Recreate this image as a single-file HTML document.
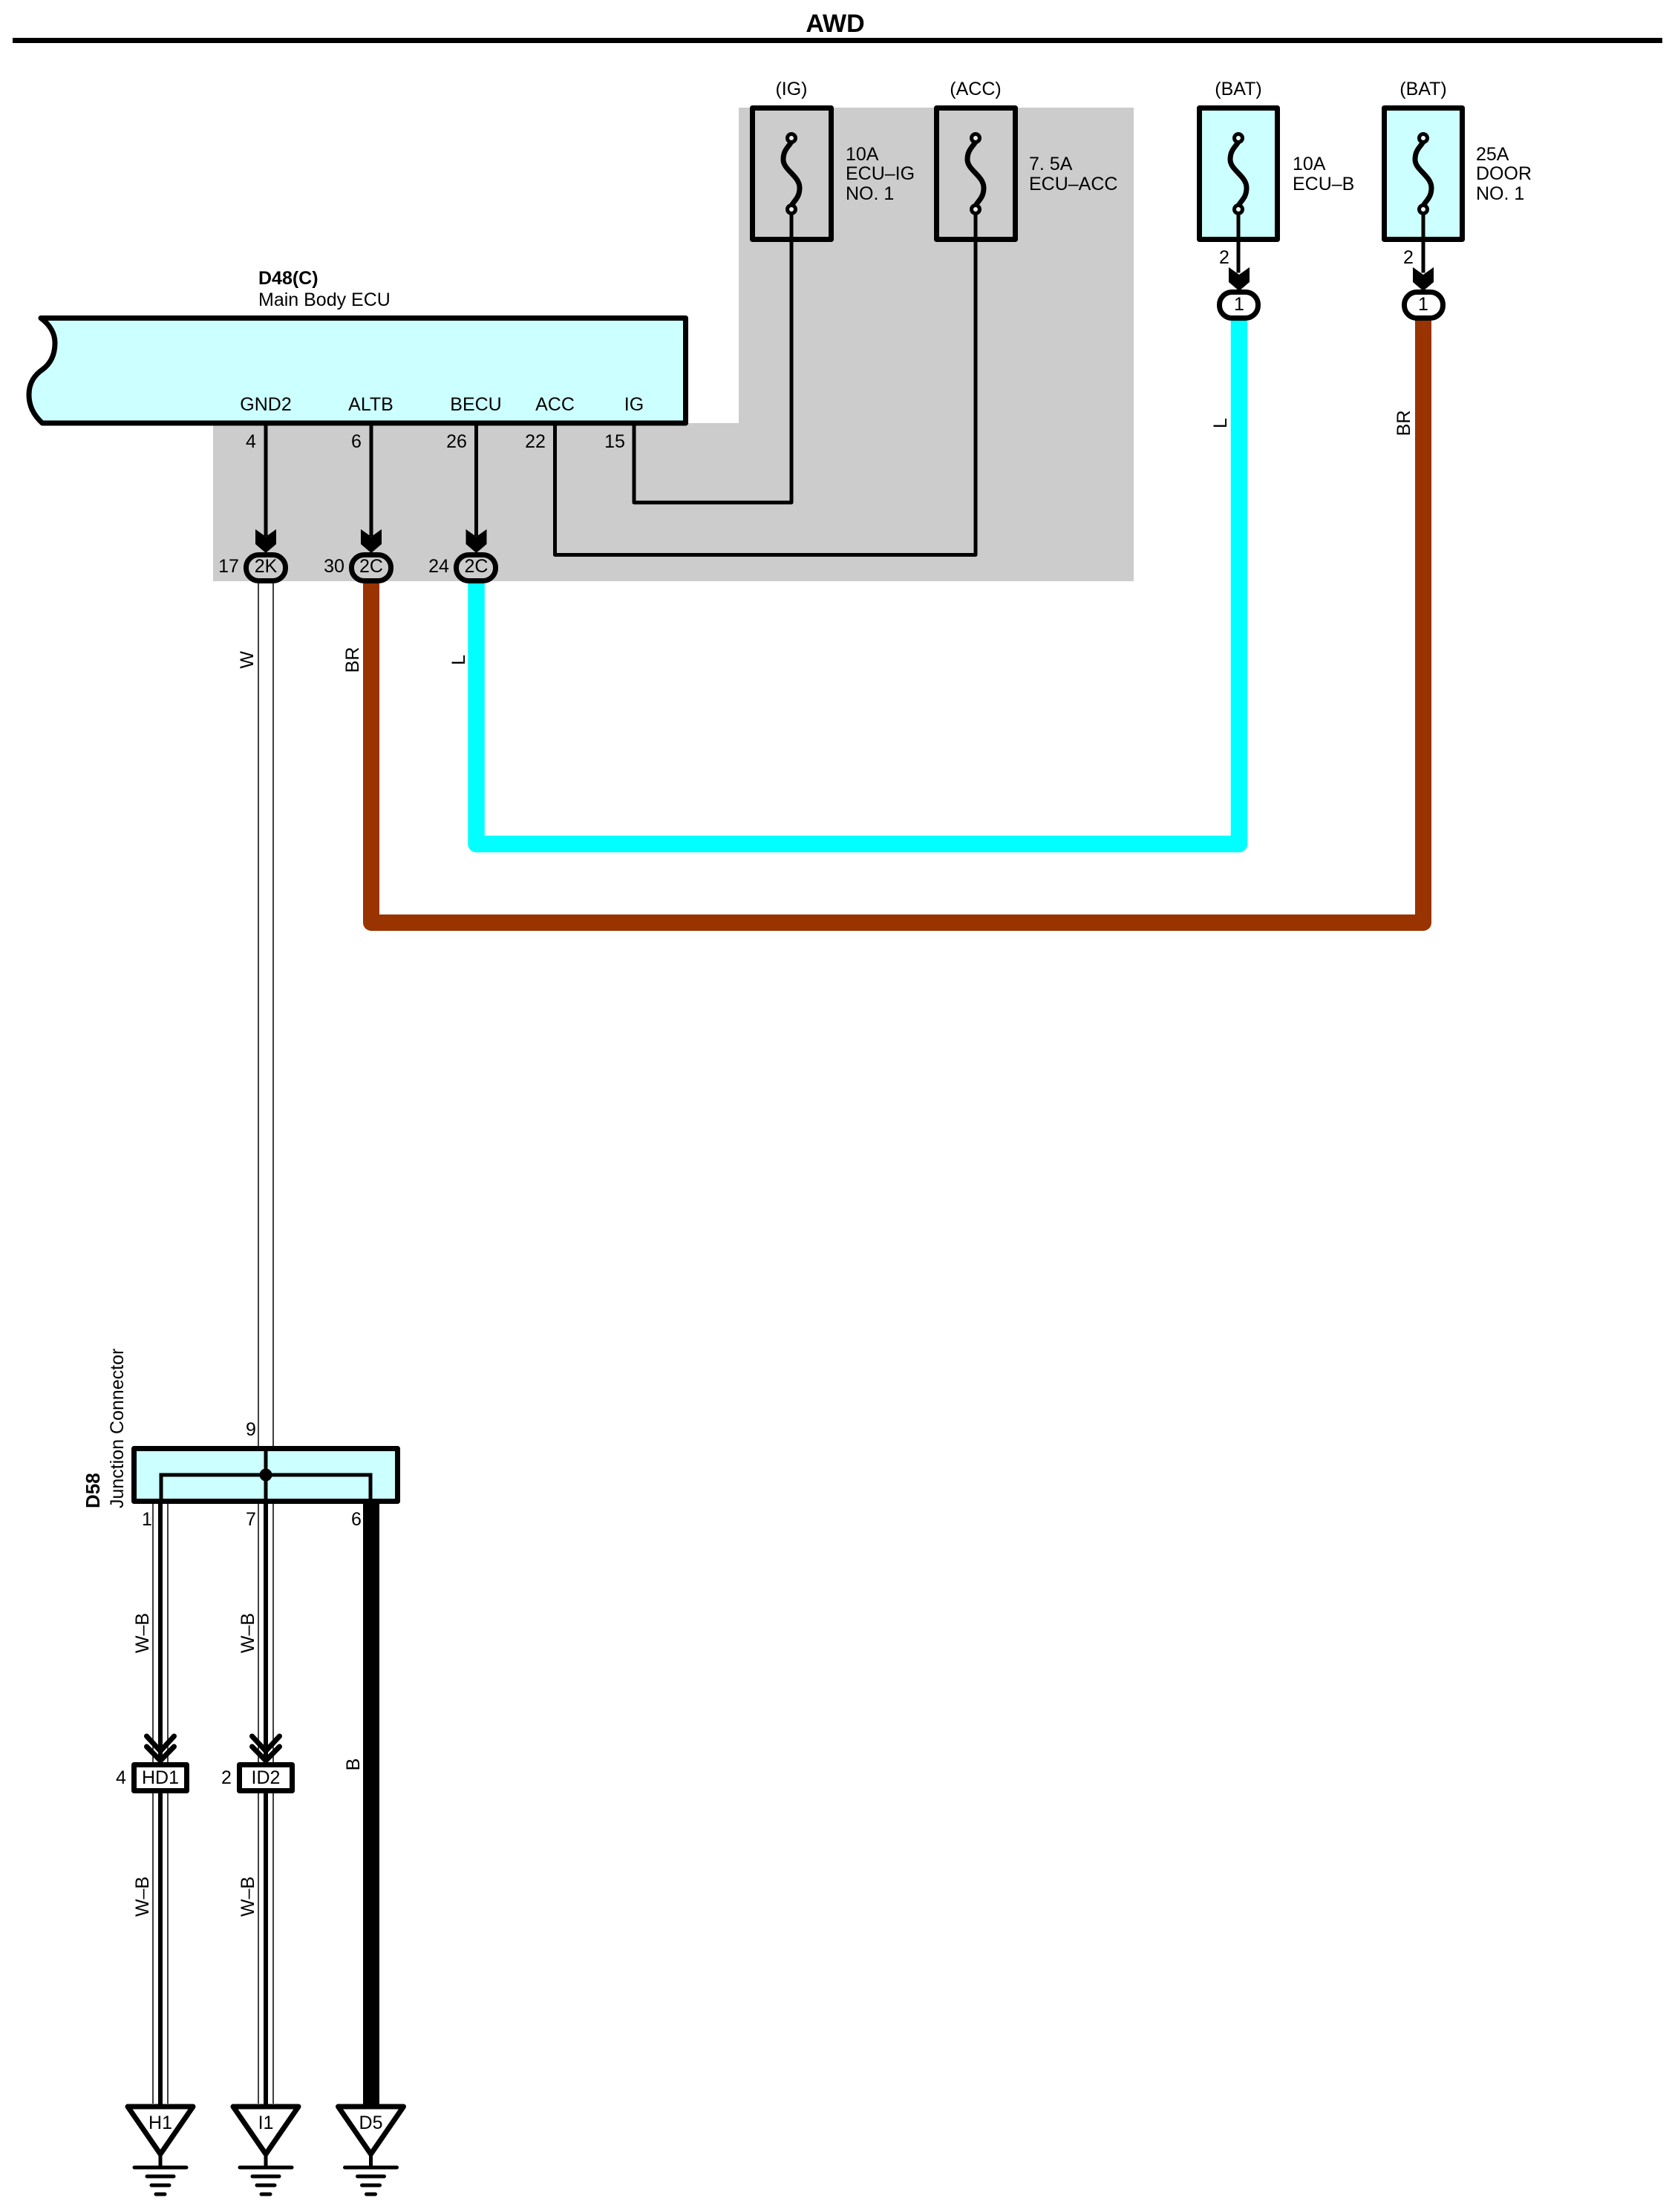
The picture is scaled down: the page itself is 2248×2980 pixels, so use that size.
<!DOCTYPE html>
<html><head><meta charset="utf-8"><title>AWD</title>
<style>
html,body{margin:0;padding:0;background:#fff}
svg{display:block}
text{font-family:"Liberation Sans",Arial,sans-serif;font-size:25px;fill:#000}
.m{text-anchor:middle}
.b{font-weight:bold}
.bx{fill:none;stroke:#000;stroke-width:7;stroke-linejoin:round}
.w{fill:none;stroke:#000;stroke-width:5;stroke-linejoin:round;stroke-linecap:square}
.t{fill:none;stroke:#000;stroke-width:1.5}
.g{stroke:#000;stroke-width:5;stroke-linecap:round}
</style></head><body>
<svg xmlns="http://www.w3.org/2000/svg" width="2248" height="2980" viewBox="0 0 2248 2980">
<defs>
<g id="fuse">
<path d="M0 -43 C-4 -36 -11 -32 -11 -19 C-11 -5 11 3 11 19 C11 32 4 36 0 43" fill="none" stroke="#000" stroke-width="7"/>
<circle cx="0" cy="-48" r="5.5" fill="#fff" fill-opacity="0.6" stroke="#000" stroke-width="5"/>
<circle cx="0" cy="48" r="5.5" fill="#fff" fill-opacity="0.6" stroke="#000" stroke-width="5"/>
</g>
<path id="arr" d="M-14 0 L0 10 L14 0 L14 20 L0 32 L-14 20 Z"/>
<g id="gnd">
<path d="M-44 0 H44 L0 64 Z" fill="#fff" stroke="#000" stroke-width="7" stroke-linejoin="round"/>
<line x1="0" y1="62" x2="0" y2="82" stroke="#000" stroke-width="5"/>
<line class="g" x1="-35" y1="82" x2="35" y2="82"/>
<line class="g" x1="-18" y1="94" x2="18" y2="94"/>
<line class="g" x1="-12" y1="106" x2="12" y2="106"/>
<line class="g" x1="-6" y1="118" x2="6" y2="118"/>
</g>
<g id="chev" fill="none" stroke="#000" stroke-width="7" stroke-linecap="round" stroke-linejoin="miter">
<path d="M-18.500 0 L0 20 L18.500 0"/>
<path d="M-18.500 14 L0 33 L18.500 14"/>
</g>
</defs>

<!-- title -->
<text class="m b" x="1125" y="43" style="font-size:34px">AWD</text>
<rect x="17" y="51" width="2222" height="7" fill="#000"/>

<!-- grey area -->
<path d="M995 145 H1527 V783 H287 V570 H995 Z" fill="#cccccc"/>

<!-- fuses -->
<rect class="bx" x="1013.500" y="145.500" width="106" height="177"/>
<rect class="bx" x="1261.500" y="145.500" width="106" height="177"/>
<rect class="bx" x="1615.500" y="145.500" width="105" height="177" style="fill:#ccffff"/>
<rect class="bx" x="1864.500" y="145.500" width="105" height="177" style="fill:#ccffff"/>
<use href="#fuse" x="1066" y="234"/>
<use href="#fuse" x="1314" y="234"/>
<use href="#fuse" x="1668" y="234"/>
<use href="#fuse" x="1917" y="234"/>

<text class="m" x="1066" y="128">(IG)</text>
<text class="m" x="1314" y="128">(ACC)</text>
<text class="m" x="1668" y="128">(BAT)</text>
<text class="m" x="1917" y="128">(BAT)</text>

<text x="1139" y="216">10A</text>
<text x="1139" y="242">ECU–IG</text>
<text x="1139" y="269">NO. 1</text>
<text x="1386" y="229">7. 5A</text>
<text x="1386" y="256">ECU–ACC</text>
<text x="1741" y="229">10A</text>
<text x="1741" y="256">ECU–B</text>
<text x="1988" y="216">25A</text>
<text x="1988" y="242">DOOR</text>
<text x="1988" y="269">NO. 1</text>

<!-- ECU -->
<path d="M55 428.500 H923.500 V570 H57 C46 560 39 548 39 532 C39 515 47 505 57 498 C68 490 74 478 74 462 C74 450 68 438 55 428.500 Z" fill="#ccffff" stroke="#000" stroke-width="7" stroke-linejoin="round"/>
<text class="b" x="348" y="383">D48(C)</text>
<text x="348" y="412">Main Body ECU</text>
<text class="m" x="358" y="553">GND2</text>
<text class="m" x="499.500" y="553">ALTB</text>
<text class="m" x="641" y="553">BECU</text>
<text class="m" x="747.500" y="553">ACC</text>
<text class="m" x="854" y="553">IG</text>
<text class="m" x="338" y="603">4</text>
<text class="m" x="480" y="603">6</text>
<text class="m" x="615" y="603">26</text>
<text class="m" x="721" y="603">22</text>
<text class="m" x="828" y="603">15</text>

<!-- thin wires -->
<path class="w" d="M358 573 V720 M500 573 V720 M641.500 573 V720"/>
<path class="w" d="M854 573 V677 H1066 V290"/>
<path class="w" d="M747.500 573 V747.500 H1314 V290"/>
<path class="w" d="M1668 290 V365 M1917 290 V365"/>

<!-- thick coloured wires -->
<path d="M500 786 V1243 H1917 V430" fill="none" stroke="#993300" stroke-width="22" stroke-linejoin="round"/>
<path d="M641.500 786 V1137 H1669 V430" fill="none" stroke="#00ffff" stroke-width="22.500" stroke-linejoin="round"/>

<!-- W wire -->
<path class="t" d="M348 786 V1948 M368 786 V1948"/>

<!-- arrows -->
<use href="#arr" x="358" y="713"/>
<use href="#arr" x="500" y="713"/>
<use href="#arr" x="641.500" y="713"/>
<use href="#arr" x="1669" y="360"/>
<use href="#arr" x="1917" y="360"/>

<!-- ovals -->
<rect class="bx" x="331.500" y="747.500" width="53" height="35" rx="17" ry="17"/>
<rect class="bx" x="473.500" y="747.500" width="53" height="35" rx="17" ry="17"/>
<rect class="bx" x="614.500" y="747.500" width="53" height="35" rx="17" ry="17"/>
<rect class="bx" x="1642.500" y="393.500" width="52" height="35" rx="17" ry="17" style="fill:#fff"/>
<rect class="bx" x="1891.500" y="393.500" width="52" height="35" rx="17" ry="17" style="fill:#fff"/>
<text class="m" x="358" y="771">2K</text>
<text class="m" x="500" y="771">2C</text>
<text class="m" x="641.500" y="771">2C</text>
<text class="m" x="1669" y="418">1</text>
<text class="m" x="1917" y="418">1</text>
<text class="m" x="308" y="771">17</text>
<text class="m" x="450" y="771">30</text>
<text class="m" x="591" y="771">24</text>
<text class="m" x="1649" y="355">2</text>
<text class="m" x="1897" y="355">2</text>

<!-- wire labels -->
<text class="m" transform="translate(341 889) rotate(-90)">W</text>
<text class="m" transform="translate(483 889) rotate(-90)">BR</text>
<text class="m" transform="translate(626 889) rotate(-90)">L</text>
<text class="m" transform="translate(1652 570) rotate(-90)">L</text>
<text class="m" transform="translate(1899 570) rotate(-90)">BR</text>

<!-- lower wires -->
<path class="t" d="M206 2026 V2834 M226 2026 V2834 M348 2026 V2834 M368 2026 V2834"/>
<rect x="213" y="2026" width="6" height="345" fill="#000"/>
<rect x="355" y="2026" width="6" height="345" fill="#000"/>
<rect x="213" y="2416" width="6" height="420" fill="#000"/>
<rect x="355" y="2416" width="6" height="420" fill="#000"/>
<rect x="489" y="2026" width="22" height="810" fill="#000"/>

<!-- junction -->
<rect class="bx" x="180.500" y="1951.500" width="355" height="71" style="fill:#ccffff"/>
<path d="M217 2024 V1987 H499 V2024 M358 1951 V2026" fill="none" stroke="#000" stroke-width="5"/>
<circle cx="358" cy="1987" r="8.500" fill="#000"/>
<text class="b" transform="translate(134 2032) rotate(-90)" style="font-size:26px">D58</text>
<text transform="translate(166 2032) rotate(-90)">Junction Connector</text>
<text class="m" x="338" y="1934">9</text>
<text class="m" x="198" y="2055">1</text>
<text class="m" x="338" y="2055">7</text>
<text class="m" x="480" y="2055">6</text>
<text class="m" transform="translate(200 2200) rotate(-90)">W–B</text>
<text class="m" transform="translate(342 2200) rotate(-90)">W–B</text>
<text class="m" transform="translate(200 2555) rotate(-90)">W–B</text>
<text class="m" transform="translate(342 2555) rotate(-90)">W–B</text>
<text class="m" transform="translate(484 2377) rotate(-90)">B</text>

<!-- chevrons and boxes -->
<use href="#chev" x="216" y="2339"/>
<use href="#chev" x="358" y="2339"/>
<rect class="bx" x="180.500" y="2377.500" width="71" height="35" style="fill:#fff"/>
<rect class="bx" x="322.500" y="2377.500" width="71" height="35" style="fill:#fff"/>
<text class="m" x="216" y="2403">HD1</text>
<text class="m" x="358" y="2403">ID2</text>
<text class="m" x="163" y="2403">4</text>
<text class="m" x="305" y="2403">2</text>

<!-- grounds -->
<use href="#gnd" x="216" y="2838"/>
<use href="#gnd" x="358" y="2838"/>
<use href="#gnd" x="499.500" y="2838"/>
<text class="m" x="216" y="2868">H1</text>
<text class="m" x="358" y="2868">I1</text>
<text class="m" x="499.500" y="2868">D5</text>
</svg>
</body></html>
